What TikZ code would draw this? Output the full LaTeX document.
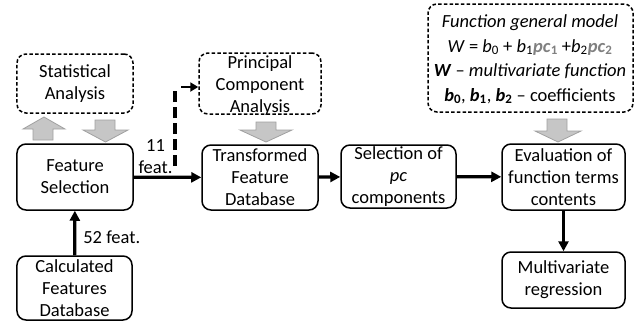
\documentclass[tikz,border=0pt]{standalone}
\usepackage{fontspec}
\setmainfont{Carlito}
\usetikzlibrary{arrows.meta}
\definecolor{blockfill}{HTML}{C6C6C6}
\definecolor{blockedge}{HTML}{A0A0A0}
\definecolor{pcgrey}{HTML}{808080}
\tikzset{
  x=1bp, y=-1bp,
  txt/.style={font=\fontsize{18.5bp}{22bp}\selectfont},
  box/.style={draw=black, line width=1.5bp, rounded corners=9bp, align=center,
    txt, inner sep=0pt},
  dbox/.style={box, dash pattern=on 3.5bp off 2.2bp},
  flow/.style={line width=3.2bp, -{Triangle[length=10bp,width=10bp]}},
  block/.style={fill=blockfill, draw=blockedge, line width=0.8bp},
}
\newcommand{\pcterm}[1]{\textcolor{pcgrey}{\textbf{\textit{pc}}\textsubscript{\textbf{#1}}}}
\begin{document}
\begin{tikzpicture}
\useasboundingbox (0,0) rectangle (635,320);

% process boxes
\node[box, minimum width=116bp, minimum height=66bp] (fs) at (75,177) {Feature\\Selection};
\node[box, minimum width=115bp, minimum height=64bp] (calc) at (74.5,288) {Calculated\\Features\\Database};
\node[box, minimum width=116bp, minimum height=65bp] (tfd) at (260,177.5) {Transformed\\Feature\\Database};
\node[box, minimum width=115bp, minimum height=63bp] (sel) at (398.5,176.5) {Selection of\\\textit{pc}\\components};
\node[box, minimum width=123bp, minimum height=66bp] (eval) at (563.5,177) {Evaluation of\\function terms\\contents};
\node[box, minimum width=123bp, minimum height=56bp] (mreg) at (563.5,280) {Multivariate\\regression};

% auxiliary (dashed) boxes
\node[dbox, minimum width=116bp, minimum height=59bp] (stat) at (75,83.5) {Statistical\\Analysis};
\node[dbox, minimum width=122bp, minimum height=61bp] (pca) at (260,83.5) {};
\node[txt, align=center, inner sep=0pt] (pcatext) at (260,86) {Principal\\Component\\Analysis};
\node[dbox, minimum width=205bp, minimum height=108bp] (model) at (530.5,58) {};
\node[align=center, inner sep=0pt, font=\fontsize{18.5bp}{24.5bp}\selectfont] (modeltext) at (530,59.5)
  {\textit{Function general model}\\
   \textit{W} = \textit{b}\textsubscript{0} + \textit{b}\textsubscript{1}\pcterm{1} +\textit{b}\textsubscript{2}\pcterm{2}\\
   \textbf{\textit{W}} -- \textit{multivariate function}\\
   \textbf{\textit{b}\textsubscript{0}}, \textbf{\textit{b}\textsubscript{1}}, \textbf{\textit{b}\textsubscript{2}} -- coefficients};

% grey block arrows
\fill[block] (33,140) -- (33,129) -- (23,129) -- (44,117) -- (65,129) -- (53,129) -- (53,140) -- cycle;
\fill[block] (95,120) -- (115,120) -- (115,130) -- (128,130) -- (105.5,142) -- (83,130) -- (95,130) -- cycle;
\fill[block] (256,122) -- (276,122) -- (276,130) -- (292,130) -- (266,142) -- (240,130) -- (256,130) -- cycle;
\fill[block] (547,119) -- (567,119) -- (567,131) -- (581,131) -- (558,142) -- (535,131) -- (547,131) -- cycle;

% main flow
\draw[flow] (calc) -- (fs) node[pos=0.4, right=7bp, txt, inner sep=0pt] (l52) {52 feat.};
\draw[flow] (fs) -- (tfd);
\node[align=center, txt, inner sep=0pt] (l11) at (155.5,157) {11\\feat.};
\draw[flow] (tfd) -- (sel);
\draw[flow] (sel) -- (eval);
\draw[flow] (eval) -- (mreg);

% branch to the principal component analysis
\coordinate (split) at (175,166);
\draw[line width=3.6bp, dash pattern=on 11bp off 5bp] (split) -- (175,88);
\draw[line width=2.6bp, -{Triangle[length=8bp,width=9bp]}] (181,87) -- (pca.west |- 0,87);
\end{tikzpicture}
\end{document}
